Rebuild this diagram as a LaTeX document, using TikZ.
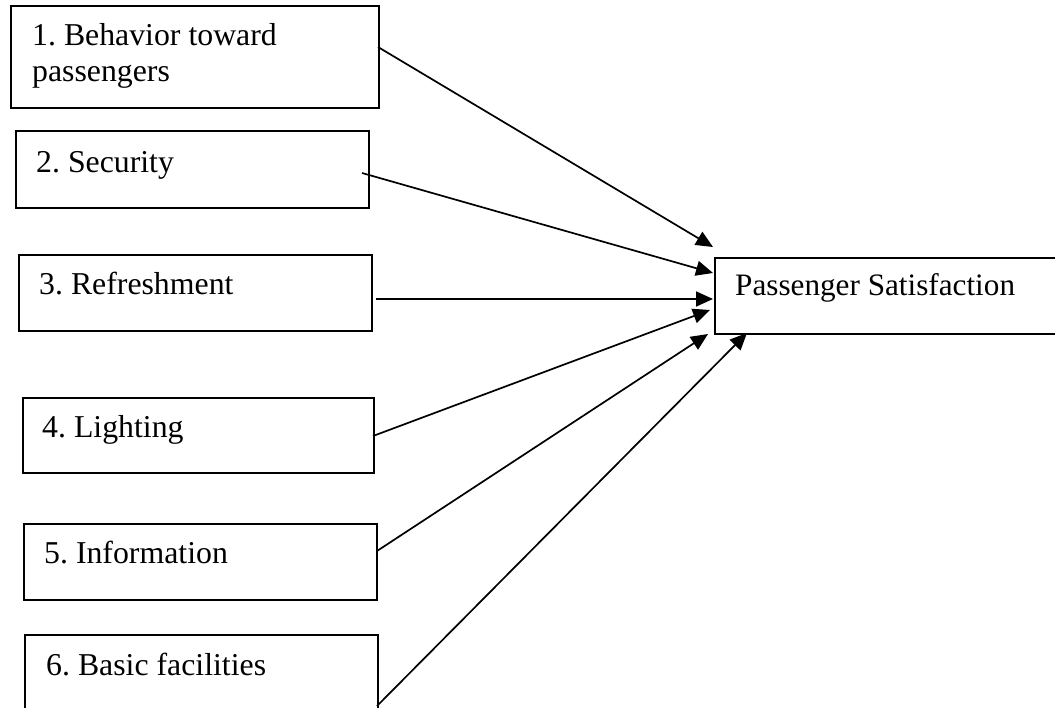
\documentclass[tikz,border=0pt]{standalone}
\usepackage{fontspec}
\setmainfont{Liberation Serif}
\usetikzlibrary{arrows.meta}
\frenchspacing
\tikzset{
  box/.style={draw=black, line width=1.8pt, fill=none, inner sep=0pt, anchor=north west},
  lbl/.style={anchor=base west, inner sep=0pt, font=\fontsize{31.8}{36}\selectfont},
  conn/.style={line width=1.7pt, -{Triangle[length=17pt,width=15pt]}}
}
\begin{document}
\frenchspacing
\begin{tikzpicture}[x=1pt,y=-1pt]
\useasboundingbox (0,0) rectangle (1055,708);
% boxes
\node[box, minimum width=368pt, minimum height=102pt] (b1) at (10,5) {};
\node[box, minimum width=353pt, minimum height=77pt] (b2) at (15,130) {};
\node[box, minimum width=353pt, minimum height=76pt] (b3) at (18,254) {};
\node[box, minimum width=351pt, minimum height=75pt] (b4) at (22,397) {};
\node[box, minimum width=353pt, minimum height=76pt] (b5) at (23,523) {};
\node[box, minimum width=353pt, minimum height=90pt] (b6) at (24,634) {};
\node[box, minimum width=360pt, minimum height=76pt] (ps) at (714,257) {};
% labels
\node[lbl] (t1a) at (32,46) {1. Behavior toward};
\node[lbl] (t1b) at (32,82) {passengers};
\node[lbl] (t2) at (36,173) {2. Security};
\node[lbl] (t3) at (39,295) {3. Refreshment};
\node[lbl] (t4) at (42,437) {4. Lighting};
\node[lbl] (t5) at (44,563) {5. Information};
\node[lbl] (t6) at (46,675) {6. Basic facilities};
\node[lbl, font=\fontsize{31.2}{36}\selectfont] (tps) at (735,296) {Passenger Satisfaction};
% connector ends
\coordinate (s1) at (378,47);
\coordinate (s2) at (362,173);
\coordinate (s3) at (376,299);
\coordinate (s4) at (373,436);
\coordinate (s5) at (377,551);
\coordinate (s6) at (377,706);
\coordinate (e1) at (713,247);
\coordinate (e2) at (713,273);
\coordinate (e3) at (713,299);
\coordinate (e4) at (710,310);
\coordinate (e5) at (708,334);
\coordinate (e6) at (747,333);
\draw[conn] (s1) -- (e1);
\draw[conn] (s2) -- (e2);
\draw[conn] (s3) -- (e3);
\draw[conn] (s4) -- (e4);
\draw[conn] (s5) -- (e5);
\draw[conn] (s6) -- (e6);
\end{tikzpicture}
\end{document}
